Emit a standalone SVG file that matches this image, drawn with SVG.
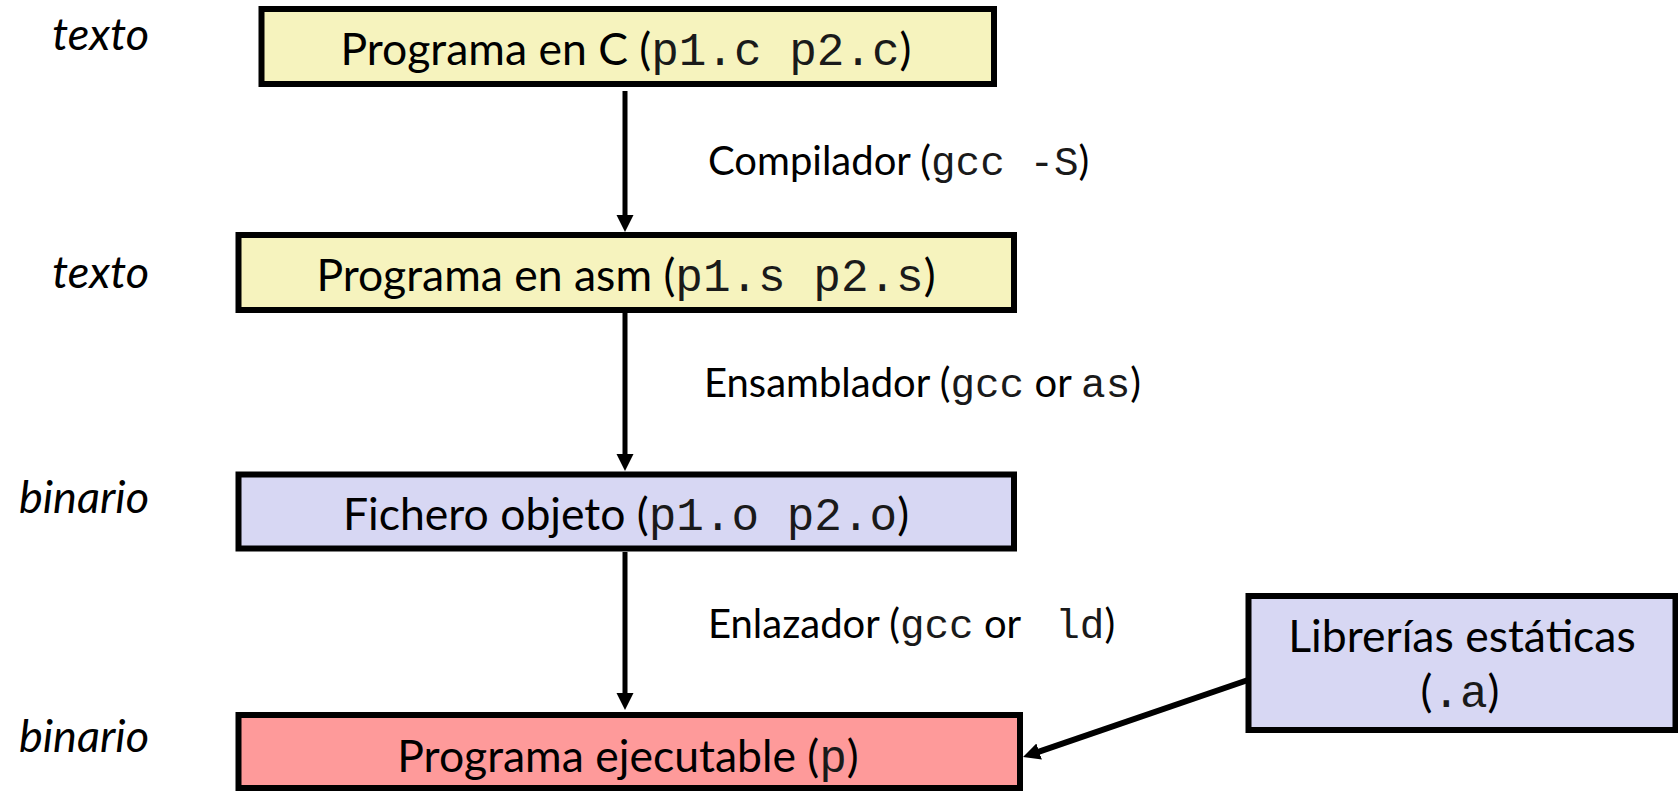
<svg xmlns="http://www.w3.org/2000/svg" width="1678" height="791" viewBox="0 0 1678 791">
  <style>
    .box { stroke: #000; stroke-width: 6; }
    .src { fill: #F6F3BE; }
    .obj { fill: #D7D7F3; }
    .exe { fill: #FE9A9A; }
    .t { font-family: Lato, "Liberation Sans", sans-serif; font-size: 44.5px; fill: #000; }
    .lbl { font-family: Lato, "Liberation Sans", sans-serif; font-size: 40px; fill: #000; }
    .side { font-family: Lato, "Liberation Sans", sans-serif; font-size: 45px; font-style: italic; fill: #000; }
    .m { font-family: "Courier New", "Nimbus Mono PS", FreeMono, Courier, "Liberation Mono", monospace; fill: #1a1a1a; }
    .t .m { font-size: 46px; }
    .lbl .m { font-size: 41px; }
    .edge { stroke: #000; fill: none; marker-end: url(#head); }
  </style>
  <defs>
    <marker id="head" markerUnits="userSpaceOnUse" markerWidth="18" markerHeight="18" refX="7" refY="8.5" orient="auto">
      <path d="M0,0 L17,8.5 L0,17 z" fill="#000"/>
    </marker>
  </defs>

  <!-- file kind captions -->
  <g id="captions">
    <text class="side" x="149" y="50" text-anchor="end">texto</text>
    <text class="side" x="149" y="288" text-anchor="end">texto</text>
    <text class="side" x="149" y="513" text-anchor="end">binario</text>
    <text class="side" x="149" y="752" text-anchor="end">binario</text>
  </g>

  <!-- connectors -->
  <g id="connectors">
    <line class="edge" x1="625" y1="91" x2="625" y2="222" stroke-width="5"/>
    <line class="edge" x1="625" y1="313" x2="625" y2="461" stroke-width="5"/>
    <line class="edge" x1="625" y1="552" x2="625" y2="700" stroke-width="5"/>
    <line class="edge" x1="1248" y1="680" x2="1032.5" y2="753.8" stroke-width="6"/>
    <text class="lbl" x="708" y="175">Compilador (<tspan class="m">gcc -S</tspan>)</text>
    <text class="lbl" x="704" y="397">Ensamblador (<tspan class="m">gcc</tspan> or <tspan class="m">as</tspan>)</text>
    <text class="lbl" x="708" y="638">Enlazador (<tspan class="m">gcc</tspan> or <tspan class="m">&#160;ld</tspan>)</text>
  </g>

  <g id="c-source">
    <rect class="box src" x="261.5" y="9" width="732.5" height="75"/>
    <text class="t" x="626" y="65" text-anchor="middle">Programa en C (<tspan class="m">p1.c p2.c</tspan>)</text>
  </g>

  <g id="asm-source">
    <rect class="box src" x="238.5" y="235" width="775.5" height="75"/>
    <text class="t" x="626" y="291" text-anchor="middle">Programa en asm (<tspan class="m">p1.s p2.s</tspan>)</text>
  </g>

  <g id="object-file">
    <rect class="box obj" x="238.5" y="474.5" width="775.5" height="74"/>
    <text class="t" x="626" y="530" text-anchor="middle">Fichero objeto (<tspan class="m">p1.o p2.o</tspan>)</text>
  </g>

  <g id="executable">
    <rect class="box exe" x="238.5" y="715" width="781.5" height="73"/>
    <text class="t" x="628" y="772" text-anchor="middle">Programa ejecutable (<tspan class="m">p</tspan>)</text>
  </g>

  <g id="static-libs">
    <rect class="box obj" x="1248.5" y="596" width="427" height="134"/>
    <text class="t" x="1462" y="652" text-anchor="middle">Librerías estáticas</text>
    <text class="t" x="1460" y="707" text-anchor="middle">(<tspan class="m">.a</tspan>)</text>
  </g>
</svg>
